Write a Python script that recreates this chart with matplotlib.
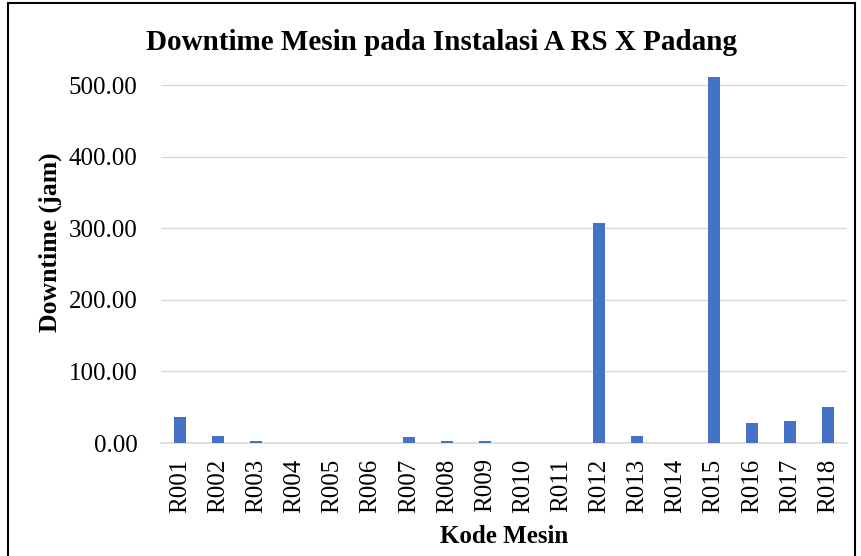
import matplotlib.pyplot as plt
import matplotlib.patches as mpatches

# Data
kode = ["R001", "R002", "R003", "R004", "R005", "R006", "R007", "R008", "R009",
        "R010", "R011", "R012", "R013", "R014", "R015", "R016", "R017", "R018"]
downtime = [36.0, 10.0, 3.0, 0.0, 0.0, 0.0, 8.5, 2.5, 2.5,
            0.0, 0.0, 307.0, 10.0, 0.0, 511.0, 28.0, 30.5, 50.0]

plt.rcParams["font.family"] = ["Liberation Serif", "DejaVu Serif"]

fig = plt.figure(figsize=(8.61, 5.56), dpi=100)
ax = fig.add_axes([161 / 861, 1 - 443 / 556, (847 - 161) / 861, (443 - 70) / 556])

x = range(len(kode))
ax.bar(x, downtime, width=0.32, color="#4472c4", zorder=3)

ax.set_xlim(-0.5, len(kode) - 0.5)
ax.set_ylim(0, 521)
ax.set_yticks([0, 100, 200, 300, 400, 500])
ax.set_yticklabels([f"{v:.2f}" for v in [0, 100, 200, 300, 400, 500]], fontsize=18)
ax.set_xticks(list(x))
ax.set_xticklabels(kode, rotation=90, fontsize=18)
ax.tick_params(axis="y", length=0, pad=17)
ax.tick_params(axis="x", length=0, pad=11)

ax.grid(axis="y", color="#d9d9d9", linewidth=1, zorder=0)
for s in ["top", "right", "left"]:
    ax.spines[s].set_visible(False)
ax.spines["bottom"].set_color("#d9d9d9")
ax.spines["bottom"].set_linewidth(1.2)

# Achsentitel
ax.set_ylabel("Downtime (jam)", fontsize=18.5, fontweight="bold")
ax.yaxis.set_label_coords(-0.144, 0.539)
ax.set_xlabel("Kode Mesin", fontsize=18, fontweight="bold")
ax.xaxis.set_label_coords(0.5, -0.22)
fig.text(441 / 861, 1 - 42 / 556, "Downtime Mesin pada Instalasi A RS X Padang",
         ha="center", va="center", fontsize=21, fontweight="bold")

# Rahmen um die ganze Grafik
fig.patches.append(mpatches.Rectangle((8 / 861, -0.05), (855 - 8) / 861, 1.05 - 3 / 556,
                                      transform=fig.transFigure,
                                      fill=False, edgecolor="black", linewidth=1.5))

fig.savefig("out.png", dpi=100)
